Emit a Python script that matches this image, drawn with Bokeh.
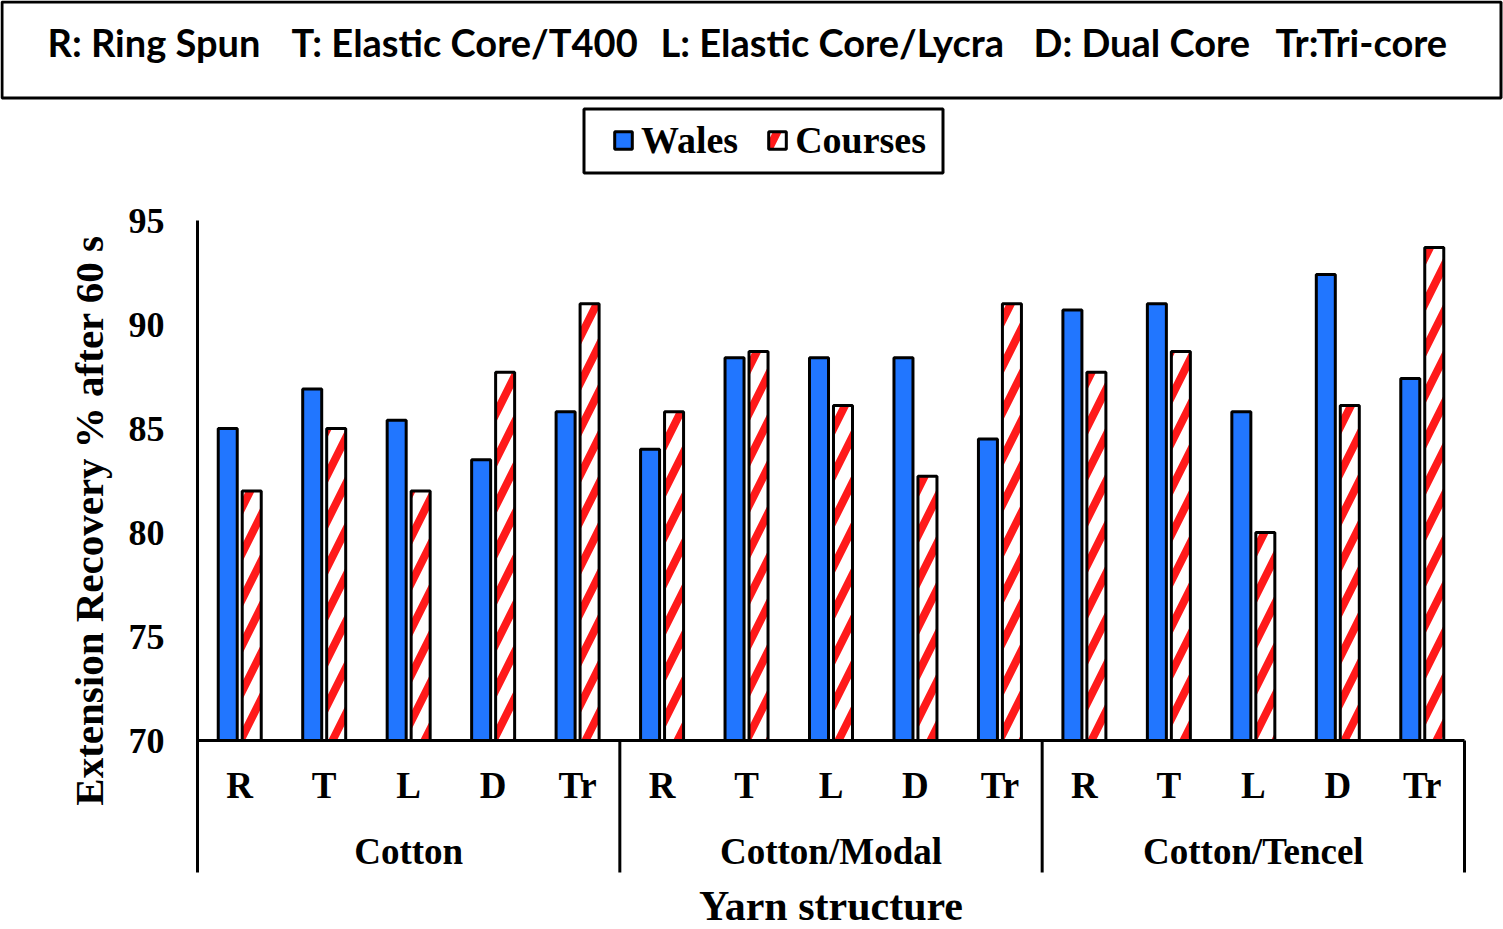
from bokeh.plotting import figure
from bokeh.models import (ColumnDataSource, Range1d, FixedTicker,
                          Legend, LegendItem, BoxAnnotation, Label)
from bokeh.transform import dodge
from bokeh.core.properties import value
from bokeh.embed import file_html
from bokeh.resources import INLINE

# ---------------- data ----------------
groups = ["Cotton", "Cotton/Modal", "Cotton/Tencel"]
structures = ["R", "T", "L", "D", "Tr"]
wales = [85.0, 86.9, 85.4, 83.5, 85.8,
         84.0, 88.4, 88.4, 88.4, 84.5,
         90.7, 91.0, 85.8, 92.4, 87.4]
courses = [82.0, 85.0, 82.0, 87.7, 91.0,
           85.8, 88.7, 86.1, 82.7, 91.0,
           87.7, 88.7, 80.0, 86.1, 93.7]
y_ticks = [70, 75, 80, 85, 90, 95]
series_names = ["Wales", "Courses"]
key_texts = ["R: Ring Spun", "T: Elastic Core/T400", "L: Elastic Core/Lycra",
             "D: Dual Core", "Tr:Tri-core"]
y_title = "Extension Recovery % after 60 s"
x_title = "Yarn structure"

# ---------------- style / layout (canvas pixels) ----------------
SERIF = "Liberation Serif"
SANS = "Lato"
BLUE = "#2176FF"
RED = "#FF1A1A"
W, H = 1503, 929
AX_L, AX_R = 197, 1464        # left / right end of the category axis
Y0_PX, Y1_PX = 740, 220       # canvas y of first / last tick
SEP_B = 872                   # bottom of group separators
YLAB_C = 520                  # canvas y of the centre of the y-axis title

n_s = len(structures)
n_cat = len(groups) * n_s
unit = (AX_R - AX_L) / float(n_cat)
x_start = -AX_L / unit
x_end = n_cat + (W - AX_R) / unit

y0, y1 = y_ticks[0], y_ticks[-1]
px = (y1 - y0) / float(Y0_PX - Y1_PX)
y_start = y0 - (H - Y0_PX) * px
y_end = y1 + Y1_PX * px
sep_bottom = y0 - (SEP_B - Y0_PX) * px
ylab_mid = y0 + (Y0_PX - YLAB_C) * px
axis_lo = 2 * ylab_mid - y1

def sy(canvas_y):           # screen units are measured from the frame bottom
    return H - canvas_y

cat_x = [gi * n_s + si + 0.5 for gi in range(len(groups)) for si in range(n_s)]
cat_text = [s for g in groups for s in structures]
grp_x = [gi * n_s + n_s / 2.0 for gi in range(len(groups))]
sep_x = [gi * n_s for gi in range(len(groups) + 1)]

p = figure(width=W, height=H, x_range=Range1d(x_start, x_end), y_range=Range1d(y_start, y_end),
           output_backend="svg", toolbar_location=None, x_axis_location=None,
           min_border=0)
p.grid.visible = False
p.outline_line_color = None

yax = p.yaxis[0]
yax.fixed_location = 0
yax.ticker = FixedTicker(ticks=y_ticks)
yax.bounds = (axis_lo, y1)
yax.axis_line_width = 3
yax.axis_line_color = "black"
yax.major_tick_line_color = None
yax.minor_tick_line_color = None
yax.major_tick_out = 0
yax.major_tick_in = 0
yax.minor_tick_out = 0
yax.major_label_text_font = SERIF
yax.major_label_text_font_style = "bold"
yax.major_label_text_font_size = "36px"
yax.major_label_text_color = "black"
yax.major_label_standoff = 33
yax.axis_label = y_title
yax.axis_label_text_font = SERIF
yax.axis_label_text_font_style = "bold"
yax.axis_label_text_font_size = "41px"
yax.axis_label_text_color = "black"
yax.axis_label_standoff = 14

src = ColumnDataSource(dict(x=cat_x, wales=wales, courses=courses))
rw = p.vbar(x=dodge("x", -0.142), top="wales", bottom=y0, width=0.225,
            source=src, fill_color=BLUE, line_color="black", line_width=3)
rc = p.vbar(x=dodge("x", 0.142), top="courses", bottom=y0, width=0.225,
            source=src, fill_color="white", hatch_pattern="/", hatch_color=RED,
            hatch_scale=46, hatch_weight=8, line_color="black", line_width=3)

# category axis line and group separators
p.segment(x0=[sep_x[0]], x1=[sep_x[-1]], y0=[y0], y1=[y0], line_color="black", line_width=3)
p.segment(x0=sep_x, x1=sep_x, y0=[sep_bottom] * len(sep_x), y1=[y0] * len(sep_x),
          line_color="black", line_width=3)

p.text(x=cat_x, y=[y0 - 45 * px] * len(cat_x), text=cat_text,
       text_font=value(SERIF), text_font_style="bold", text_font_size="37px",
       text_align="center", text_baseline="middle", text_color="black")
p.text(x=grp_x, y=[y0 - 111 * px] * len(grp_x), text=groups,
       text_font=value(SERIF), text_font_style="bold", text_font_size="37px",
       text_align="center", text_baseline="middle", text_color="black")
p.text(x=[(sep_x[0] + sep_x[-1]) / 2.0], y=[y0 - 165 * px], text=[x_title],
       text_font=value(SERIF), text_font_style="bold", text_font_size="42px",
       text_align="center", text_baseline="middle", text_color="black")

# legend box + legend
p.add_layout(BoxAnnotation(left=583.5, right=942.5, top=sy(108.5), bottom=sy(172.5),
                           left_units="screen", right_units="screen",
                           top_units="screen", bottom_units="screen",
                           fill_color="white", fill_alpha=1, line_color="black",
                           line_width=3, line_alpha=1))
legend = Legend(items=[LegendItem(label=series_names[0], renderers=[rw]),
                       LegendItem(label=series_names[1], renderers=[rc])],
                orientation="horizontal", location=(612, sy(162)),
                border_line_color=None, background_fill_alpha=0,
                label_text_font=SERIF, label_text_font_style="bold",
                label_text_font_size="38px", label_text_color="black",
                glyph_width=22, glyph_height=22, label_standoff=7, spacing=28,
                padding=10, margin=0)
p.add_layout(legend)

# key box at the top
p.add_layout(BoxAnnotation(left=1.5, right=W - 2.5, top=sy(1.5), bottom=sy(97.5),
                           left_units="screen", right_units="screen",
                           top_units="screen", bottom_units="screen",
                           fill_color="white", fill_alpha=1, line_color="black",
                           line_width=3, line_alpha=1))
key_x = [47, 291, 660, 1033, 1275]
for kx, kt in zip(key_x, key_texts):
    p.add_layout(Label(x=kx, y=sy(41), x_units="screen", y_units="screen", text=kt,
                       text_font=SANS, text_font_style="bold", text_font_size="38px",
                       text_color="black", text_align="left", text_baseline="middle"))

open("out.html", "w").write(file_html(p, INLINE))
